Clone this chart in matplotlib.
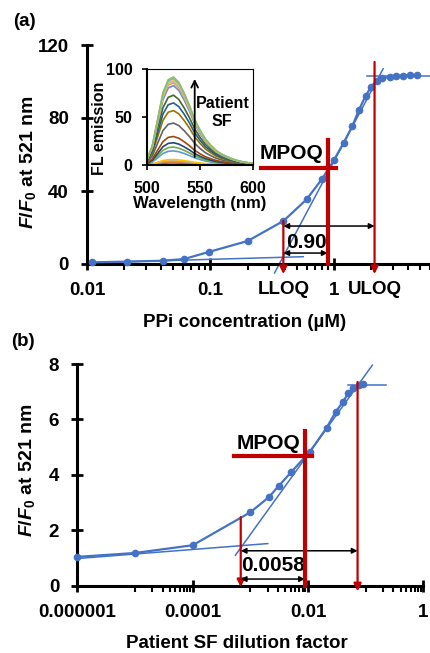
import numpy as np
import matplotlib
matplotlib.use("Agg")
import matplotlib.pyplot as plt
from matplotlib.ticker import FixedLocator, NullFormatter

plt.rcParams['font.family'] = ['Liberation Sans', 'DejaVu Sans']
plt.rcParams['font.weight'] = 'bold'
plt.rcParams['axes.labelweight'] = 'bold'
plt.rcParams['mathtext.fontset'] = 'custom'
plt.rcParams['mathtext.it'] = 'Liberation Sans:bold:italic'
plt.rcParams['mathtext.rm'] = 'Liberation Sans:bold'

# ------------------> Data <------------------
# (a) PPi calibration
ppi_conc = [0.011, 0.021, 0.041, 0.061, 0.098, 0.2, 0.39, 0.6, 0.8, 1.0, 1.2, 1.41,
            1.59, 1.8, 2.0, 2.22, 2.43, 2.84, 3.2, 3.6, 4.1, 4.7]
ppi_ratio = [0.9, 1.3, 1.8, 2.7, 6.7, 12.6, 23.6, 35.4, 46.6, 57.0, 66.5, 75.6,
             84.4, 92.0, 97.2, 100.5, 101.7, 102.6, 103.2, 103.2, 103.3, 103.3]
fit_low_a = ([0.011, 0.564], [0.7, 4.0])
fit_steep_a = ([0.33, 2.5], [-4.9, 107.0])
fit_top_a = ([1.85, 8.0], [103.0, 103.0])
lloq_a, mpoq_a, uloq_a = 0.389, 0.889, 2.13

# (b) patient SF dilution
sf_dil = [1e-6, 1e-5, 1e-4, 1e-3, 0.0021, 0.0031, 0.0051, 0.0107, 0.021, 0.03,
          0.04, 0.05, 0.06, 0.077, 0.09]
sf_ratio = [1.04, 1.18, 1.46, 2.65, 3.2, 3.6, 4.1, 4.83, 5.7, 6.27,
            6.63, 6.95, 7.13, 7.25, 7.27]
fit_low_b = ([1e-6, 0.002], [0.98, 1.52])
fit_steep_b = ([0.00055, 0.13], [1.1, 7.96])
fit_top_b = ([0.05, 0.22], [7.25, 7.25])
lloq_b, mpoq_b, uloq_b = 0.00068, 0.0088, 0.072

# inset spectra: normalised band shape and peak heights
wl = [500, 505, 510, 515, 520, 525, 530, 535, 540, 545, 550, 555, 560, 565, 570,
      575, 580, 585, 590, 595, 600]
band = [0.07, 0.22, 0.52, 0.82, 0.97, 1.0, 0.94, 0.82, 0.68, 0.52, 0.4, 0.3, 0.23,
        0.17, 0.13, 0.1, 0.075, 0.055, 0.04, 0.03, 0.02]
peaks = [2.5, 3.5, 4.5, 6, 15, 19, 23.5, 30, 44, 57, 65, 73, 83, 86, 88, 89, 90.5, 92]
spec_colors = ['#4472C4', '#ED7D31', '#A5A5A5', '#FFC000', '#5B9BD5', '#70AD47',
               '#264478', '#9E480E', '#636363', '#997300', '#255E91', '#43682B',
               '#698ED0', '#F1975A', '#B7B7B7', '#FFCD33', '#7CAFDD', '#8CC168']

blue = '#4472C4'
red = '#C00000'
W, H = 431, 653

fig = plt.figure(figsize=(W / 100, H / 100), dpi=100)


def px_axes(l, t, r, b):
    return fig.add_axes([l / W, 1 - b / H, (r - l) / W, (b - t) / H])


def style_main(ax):
    for s in ['top', 'right']:
        ax.spines[s].set_visible(False)
    for s in ['left', 'bottom']:
        ax.spines[s].set_linewidth(2.2)
    ax.tick_params(which='major', direction='inout', length=8, width=2, labelsize=13.5, pad=9)
    ax.tick_params(axis='x', which='minor', direction='out', length=4, width=1.5)
    ax.patch.set_alpha(0)


def red_arrow(ax, x, y0, y1):
    ax.annotate('', xy=(x, y1), xytext=(x, y0), annotation_clip=False,
                arrowprops=dict(arrowstyle='-|>', color=red, lw=1.6, mutation_scale=11,
                                shrinkA=0, shrinkB=0))


def black_arrow(ax, x0, x1, y):
    ax.annotate('', xy=(x1, y), xytext=(x0, y), annotation_clip=False,
                arrowprops=dict(arrowstyle='<|-|>', color='black', lw=1.1, mutation_scale=8,
                                shrinkA=0, shrinkB=0))


# ----> panel (a) <----
ax1 = px_axes(87, 45, 87 + 370.5, 264)
ax1.set_xscale('log')
ax1.set_xlim(0.01, 10)
ax1.set_ylim(0, 120)
style_main(ax1)
ax1.set_yticks([0, 40, 80, 120])
ax1.set_xticks([0.01, 0.1, 1])
ax1.set_xticklabels(['0.01', '0.1', '1'])
ax1.xaxis.set_minor_locator(FixedLocator([m * 10.0 ** k for k in (-2, -1, 0) for m in range(2, 10)]))
ax1.xaxis.set_minor_formatter(NullFormatter())

ax1.plot(*fit_low_a, color=blue, lw=1.1, clip_on=False)
ax1.plot(*fit_steep_a, color=blue, lw=1.1, clip_on=False)
ax1.plot(*fit_top_a, color=blue, lw=1.1, clip_on=False)
ax1.plot(ppi_conc, ppi_ratio, color=blue, lw=1.6, marker='o', ms=4.5, clip_on=False, zorder=3)

red_arrow(ax1, lloq_a, 23.6, -5.5)
red_arrow(ax1, uloq_a, 110.7, -5.5)
ax1.plot([mpoq_a, mpoq_a], [68, 0], color=red, lw=3, clip_on=False, zorder=4)
ax1.plot([0.256, 1.03], [52.4, 52.4], color=red, lw=3, clip_on=False, zorder=4)
black_arrow(ax1, lloq_a, uloq_a, 20.8)
black_arrow(ax1, lloq_a, mpoq_a, 6.0)
ax1.text(0.598, 11.8, '0.90', fontsize=15, ha='center', va='center')
ax1.text(0.252, 60.8, 'MPOQ', fontsize=15, ha='left', va='center')
for xv, lab in [(lloq_a, 'LLOQ'), (uloq_a, 'ULOQ')]:
    ax1.annotate(lab, xy=(xv, 0), xycoords=('data', 'axes fraction'), xytext=(0, -26),
                 textcoords='offset pixels', ha='center', va='center', fontsize=13.5)

fig.text(245 / W, 1 - 323 / H, 'PPi concentration (µM)', ha='center', va='center', fontsize=13.5)
fig.text(28 / W, 1 - 162 / H, r'$\mathit{F/F_0}$ at 521 nm', ha='center', va='center',
         rotation=90, fontsize=14)
fig.text(24 / W, 1 - 22 / H, '(a)', ha='center', va='center', fontsize=13.5)

# ----> inset <----
ins = px_axes(147, 69.3, 253, 165.3)
for k, pk in enumerate(peaks):
    ins.plot(wl, [pk * b for b in band], color=spec_colors[k], lw=1.2)
ins.set_xlim(500, 600)
ins.set_ylim(0, 100)
ins.set_xticks([500, 550, 600])
ins.set_yticks([0, 50, 100])
ins.tick_params(direction='out', length=3.5, width=1.2, labelsize=11.5)
ins.tick_params(axis='x', pad=8)
ins.tick_params(axis='y', pad=7)
for s in ['top', 'right']:
    ins.spines[s].set_linewidth(0.8)
for s in ['left', 'bottom']:
    ins.spines[s].set_linewidth(1.5)
ins.set_xlabel('Wavelength (nm)', fontsize=12, labelpad=0)
fig.text(100 / W, 1 - 128 / H, 'FL emission', ha='center', va='center', rotation=90, fontsize=11.5)
ins.annotate('', xy=(545, 90), xytext=(545, 8.6),
             arrowprops=dict(arrowstyle='->', color='black', lw=1.3, mutation_scale=12,
                             shrinkA=0, shrinkB=0))
ins.text(571, 55, 'Patient\nSF', fontsize=11.5, ha='center', va='center',
         multialignment='center', linespacing=1.3)

# ----> panel (b) <----
ax2 = px_axes(77.3, 364, 423.5, 585.7)
ax2.set_xscale('log')
ax2.set_xlim(1e-6, 1)
ax2.set_ylim(0, 8)
style_main(ax2)
ax2.set_yticks([0, 2, 4, 6, 8])
ax2.set_xticks([1e-6, 1e-4, 1e-2, 1])
ax2.set_xticklabels(['0.000001', '0.0001', '0.01', '1'])
ax2.xaxis.set_minor_locator(FixedLocator([m * 10.0 ** k for k in (-6, -4, -2) for m in range(10, 100, 10)]))
ax2.xaxis.set_minor_formatter(NullFormatter())

ax2.plot(*fit_low_b, color=blue, lw=1.1, clip_on=False)
ax2.plot(*fit_steep_b, color=blue, lw=1.1, clip_on=False)
ax2.plot(*fit_top_b, color=blue, lw=1.1, clip_on=False)
ax2.plot(sf_dil, sf_ratio, color=blue, lw=1.6, marker='o', ms=4.5, clip_on=False, zorder=3)

red_arrow(ax2, lloq_b, 2.47, -0.05)
red_arrow(ax2, uloq_b, 7.35, -0.2)
ax2.plot([mpoq_b, mpoq_b], [5.58, 0], color=red, lw=3, clip_on=False, zorder=4)
ax2.plot([0.00052, 0.0118], [4.68, 4.68], color=red, lw=3, clip_on=False, zorder=4)
black_arrow(ax2, lloq_b, uloq_b, 1.26)
black_arrow(ax2, lloq_b, mpoq_b, 0.24)
ax2.text(0.00247, 0.73, '0.0058', fontsize=15, ha='center', va='center')
ax2.text(0.00058, 5.12, 'MPOQ', fontsize=15, ha='left', va='center')

fig.text(237 / W, 1 - 643 / H, 'Patient SF dilution factor', ha='center', va='center', fontsize=13.5)
fig.text(27 / W, 1 - 470 / H, r'$\mathit{F/F_0}$ at 521 nm', ha='center', va='center',
         rotation=90, fontsize=14)
fig.text(23 / W, 1 - 342 / H, '(b)', ha='center', va='center', fontsize=13.5)

fig.savefig('out.png', dpi=100)
